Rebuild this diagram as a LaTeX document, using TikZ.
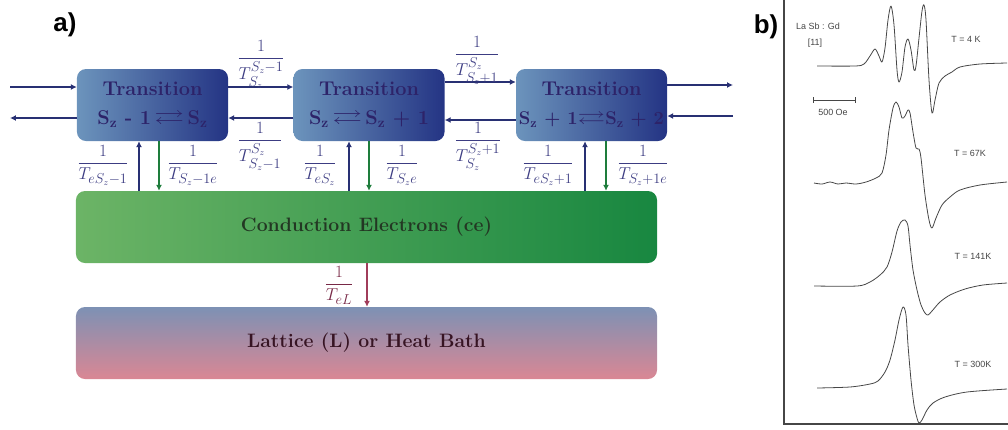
\documentclass[tikz,border=0pt]{standalone}
\usepackage{amssymb}
\usepackage{fontspec}
\newfontfamily\sansb{Liberation Sans}
\usetikzlibrary{arrows.meta}
\definecolor{navy}{RGB}{40,48,115}
\definecolor{lblue}{RGB}{60,60,130}
\definecolor{boxL}{RGB}{108,148,188}
\definecolor{boxR}{RGB}{36,52,132}
\definecolor{boxtxt}{RGB}{45,35,105}
\definecolor{ceL}{RGB}{108,180,102}
\definecolor{ceR}{RGB}{24,135,64}
\definecolor{cetxt}{RGB}{35,55,35}
\definecolor{latT}{RGB}{125,145,180}
\definecolor{latB}{RGB}{218,135,148}
\definecolor{lattxt}{RGB}{55,20,35}
\definecolor{garrow}{RGB}{30,125,60}
\definecolor{rarrow}{RGB}{160,60,90}
\definecolor{rlabel}{RGB}{120,40,70}
\definecolor{ink}{RGB}{70,70,70}
\newcommand{\lr}{\scalebox{1.5}[1.05]{$\rightleftarrows$}}
\newcommand{\fixline}[1]{\makebox[150bp]{#1}}
\tikzset{
  transbox/.style={rounded corners=9pt, minimum width=151bp, minimum height=72bp,
    left color=boxL, right color=boxR, draw=none, text=boxtxt, align=center,
    font=\fontsize{20}{22}\selectfont\bfseries, inner sep=0pt},
  widebox/.style={rounded corners=9pt, minimum width=581bp, minimum height=72bp,
    draw=none, font=\fontsize{19.5}{22}\selectfont\bfseries, inner sep=0pt},
  navyarr/.style={draw=navy, line width=1.3pt, -{Latex[length=6pt,width=6pt]}},
  greenarr/.style={draw=garrow, line width=1.3pt, -{Latex[length=6pt,width=6pt]}},
  redarr/.style={draw=rarrow, line width=1.1pt, -{Latex[length=6pt,width=6pt]}},
  rate/.style={text=lblue, font=\fontsize{19}{21}\selectfont, inner sep=0pt, anchor=base},
  panel/.style={font=\sansb\bfseries\fontsize{26}{28}\selectfont, inner sep=0pt},
  curve/.style={draw=ink, line width=0.8pt, line join=round},
  esrlabel/.style={font=\sansb\fontsize{9}{10}\selectfont, text=ink, inner sep=0pt},
}
\begin{document}
\begin{tikzpicture}[x=1bp,y=-1bp]
\useasboundingbox (0,0) rectangle (1008,429);
% panel labels
\node[panel] (pa) at (65,25) {a)};
\node[panel] (pb) at (766,27) {b)};
% boxes
\node[transbox] (b1) at (152.5,105) {Transition\\[7pt]\fixline{S\textsubscript{z} - 1\,\lr\,S\textsubscript{z}}};
\node[transbox] (b2) at (369,105) {Transition\\[7pt]\fixline{S\textsubscript{z}\,\lr\,S\textsubscript{z} + 1}};
\node[transbox] (b3) at (591.5,105) {Transition\\[7pt]\fixline{\fontsize{18.5}{22}\selectfont S\textsubscript{z} + 1\lr S\textsubscript{z} + 2}};
\node[widebox, left color=ceL, right color=ceR, text=cetxt] (ce) at (366.5,227) {Conduction Electrons (ce)};
\node[widebox, top color=latT, bottom color=latB, text=lattxt] (lat) at (366.5,343) {Lattice (L) or Heat Bath};
% free ends
\coordinate (inL) at (10,87);
\coordinate (outL) at (10,118);
\coordinate (outR) at (733,85);
\coordinate (inR) at (733,116);
% horizontal arrows
\draw[navyarr] (inL) -- (inL -| b1.west);
\draw[navyarr] (outL -| b1.west) -- (outL);
\coordinate (h1t) at (0,87);
\coordinate (h1b) at (0,118);
\coordinate (h2t) at (0,82);
\coordinate (h2b) at (0,120);
\draw[navyarr] (h1t -| b1.east) -- (h1t -| b2.west);
\draw[navyarr] (h1b -| b2.west) -- (h1b -| b1.east);
\draw[navyarr] (h2t -| b2.east) -- (h2t -| b3.west);
\draw[navyarr] (h2b -| b3.west) -- (h2b -| b2.east);
\draw[navyarr] (outR -| b3.east) -- (outR);
\draw[navyarr] (inR) -- (inR -| b3.east);
% vertical arrows
\coordinate (u1) at (139,0);
\coordinate (d1) at (159,0);
\coordinate (u2) at (349,0);
\coordinate (d2) at (369,0);
\coordinate (u3) at (585,0);
\coordinate (d3) at (606,0);
\coordinate (rl) at (367,0);
\draw[navyarr] (u1 |- ce.north) -- (u1 |- b1.south);
\draw[greenarr] (d1 |- b1.south) -- (d1 |- ce.north);
\draw[navyarr] (u2 |- ce.north) -- (u2 |- b2.south);
\draw[greenarr] (d2 |- b2.south) -- (d2 |- ce.north);
\draw[navyarr] (u3 |- ce.north) -- (u3 |- b3.south);
\draw[greenarr] (d3 |- b3.south) -- (d3 |- ce.north);
\draw[redarr] (rl |- ce.south) -- (rl |- lat.north);
% rate labels (anchor = base, i.e. about 5bp below the fraction bar)
\node[rate] (r12t) at (261,63) {$\displaystyle\frac{1}{T^{S_z-1}_{S_z}}$};
\node[rate] (r12b) at (260,145) {$\displaystyle\frac{1}{T^{S_z}_{S_z-1}}$};
\node[rate] (r23t) at (477,59) {$\displaystyle\frac{1}{T^{S_z}_{S_z+1}}$};
\node[rate] (r23b) at (478,145) {$\displaystyle\frac{1}{T^{S_z+1}_{S_z}}$};
\node[rate] (v1a) at (103,168) {$\displaystyle\frac{1}{T_{eS_z-1}}$};
\node[rate] (v1b) at (193,168) {$\displaystyle\frac{1}{T_{S_z-1e}}$};
\node[rate] (v2a) at (320,168) {$\displaystyle\frac{1}{T_{eS_z}}$};
\node[rate] (v2b) at (402,168) {$\displaystyle\frac{1}{T_{S_ze}}$};
\node[rate] (v3a) at (548,168) {$\displaystyle\frac{1}{T_{eS_z+1}}$};
\node[rate] (v3b) at (643,168) {$\displaystyle\frac{1}{T_{S_z+1e}}$};
\node[rate, text=rlabel] (reL) at (339,289) {$\displaystyle\frac{1}{T_{eL}}$};
% panel b: ESR spectra
\draw[draw=ink, line width=1.1pt] (784,0) -- (784,424) -- (1008,424);
\node[esrlabel] (mat) at (818,26) {La Sb : Gd};
\node[esrlabel] (ref) at (815,43) {[11]};
\node[esrlabel] (t1) at (966,39) {T = 4 K};
\node[esrlabel] (t2) at (970,153) {T = 67K};
\node[esrlabel] (t3) at (973,256) {T = 141K};
\node[esrlabel] (t4) at (973,364) {T = 300K};
\draw[curve] (813,97) -- (813,103) (813,100) -- (855,100) (855,97) -- (855,103);
\node[esrlabel] (sc) at (833,112) {500 Oe};
\draw[curve] plot[smooth, tension=0.5] coordinates {(817,66) (855,66) (864,64) (870,56) (875,49) (879,56) (882,62) (885,48) (888,20) (891,6) (894,25) (897,70) (899,82) (902,72) (905,47) (908,39) (911,50) (914,70) (916,66) (919,38) (922,11) (924,5) (926,20) (929,80) (932,113) (935,100) (939,83) (945,76) (952,72) (960,67) (980,64) (1007,63)};
\draw[curve] plot[smooth, tension=0.5] coordinates {(814,183) (822,184) (830,182) (838,184) (846,183) (856,184) (866,182) (876,178) (882,173) (886,155) (889,130) (893,108) (896,102) (899,107) (902,118) (905,116) (908,110) (910,113) (913,132) (916,148) (919,149) (921,158) (925,195) (929,220) (932,228) (936,218) (942,205) (950,197) (960,190) (980,185) (1007,182)};
\draw[curve] plot[smooth, tension=0.5] coordinates {(814,286) (857,286) (870,282) (880,275) (887,267) (892,252) (897,231) (901,222) (905,220) (908,226) (910,245) (913,270) (917,290) (921,305) (925,313) (928,315) (932,311) (940,302) (950,295) (965,289) (983,285) (1007,283)};
\draw[curve] plot[smooth, tension=0.5] coordinates {(817,388) (850,387) (870,384) (878,381) (885,372) (890,360) (895,340) (899,320) (903,307) (906,315) (908,345) (911,380) (914,405) (917,418) (919,423) (922,420) (927,410) (933,403) (945,397) (967,392) (1007,389)};
\end{tikzpicture}
\end{document}
